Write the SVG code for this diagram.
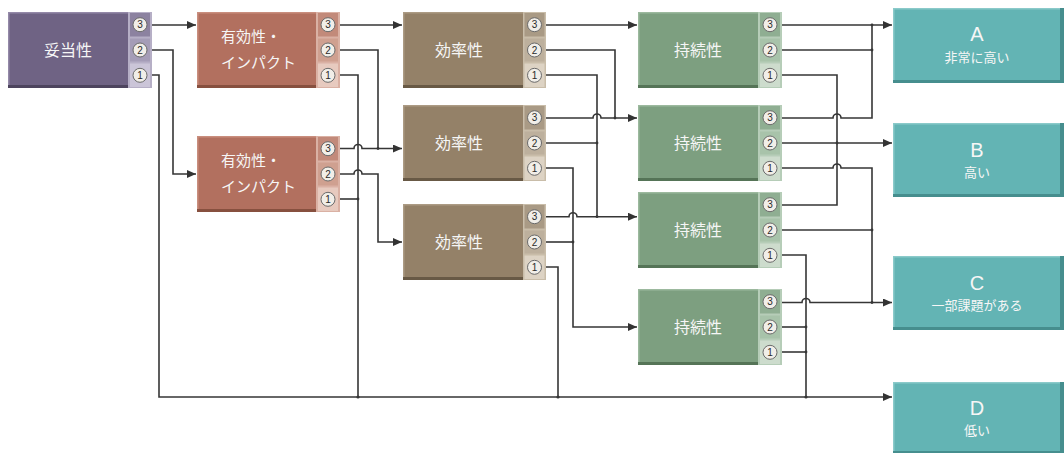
<svg xmlns="http://www.w3.org/2000/svg" width="1064" height="453" viewBox="0 0 1064 453">
<style>
.lbl{font-family:"Liberation Sans","Noto Sans CJK JP",sans-serif;fill:#f6f6f6;font-size:16px;text-anchor:middle}
.l2{font-size:15px;text-anchor:start}
.big{font-size:20px}
.sub{font-size:13px}
.c{fill:none;stroke:#363636;stroke-width:1.6}
.a{marker-end:url(#arr)}
.j{fill:#363636}
.hl{fill:none;stroke-width:1.5}
</style>
<defs>
<marker id="arr" markerUnits="userSpaceOnUse" markerWidth="9" markerHeight="8" refX="9" refY="4" orient="auto">
<path d="M0,0 L9,4 L0,8 z" fill="#333"/>
</marker>
<g id="digits" font-family="Liberation Sans, sans-serif" font-size="10" text-anchor="middle">
<circle cx="0" cy="12.7" r="7" fill="#f1eee8" stroke="#6a6a6a" stroke-width="1"/><text x="0" y="16.3" fill="#2a2a2a">3</text>
<circle cx="0" cy="38" r="7" fill="#f1eee8" stroke="#6a6a6a" stroke-width="1"/><text x="0" y="41.6" fill="#2a2a2a">2</text>
<circle cx="0" cy="63.3" r="7" fill="#f1eee8" stroke="#6a6a6a" stroke-width="1"/><text x="0" y="66.9" fill="#2a2a2a">1</text>
</g>
</defs>
<rect width="1064" height="453" fill="#ffffff"/>

<!-- connectors -->
<g id="connectors">
<path class="c a" d="M152 25 H196"/>
<path class="c a" d="M152 50 H173 V174 H196"/>
<path class="c a" d="M152 75 H159 V397 H892"/>
<path class="c a" d="M340 25 H402"/>
<path class="c" d="M340 50 H378 V148.5"/>
<path class="c a" d="M340 148.5 H354 A4 4 0 0 1 362 148.5 H402"/>
<path class="c" d="M340 75 H358 V397"/>
<path class="c a" d="M340 174 H354 A4 4 0 0 1 362 174 H378 V242 H402"/>
<path class="c" d="M340 199 H358"/>
<path class="c a" d="M546 25 H637"/>
<path class="c" d="M546 50 H615 V118"/>
<path class="c a" d="M546 118 H593 A4 4 0 0 1 601 118 H637"/>
<path class="c" d="M546 75 H597 V216.7"/>
<path class="c" d="M546 143 H597"/>
<path class="c a" d="M546 216.7 H569 A4 4 0 0 1 577 216.7 H637"/>
<path class="c a" d="M546 168 H573 V327 H637"/>
<path class="c" d="M546 242 H573"/>
<path class="c" d="M546 267 H558 V397"/>
<path class="c a" d="M782 25 H892"/>
<path class="c" d="M782 50 H872"/>
<path class="c" d="M782 118 H833 A4 4 0 0 1 841 118 H872 V25"/>
<path class="c a" d="M782 143 H892"/>
<path class="c" d="M782 75 H837 V205 H782"/>
<path class="c a" d="M782 168 H833 A4 4 0 0 1 841 168 H872 V302.5 H892"/>
<path class="c" d="M782 230 H872"/>
<path class="c" d="M782 302.5 H802 A4 4 0 0 1 810 302.5 H872"/>
<path class="c" d="M782 255 H806 V397"/>
<path class="c" d="M782 327 H806"/>
<path class="c" d="M782 352 H806"/>
<circle class="j" cx="358" cy="397" r="1.6"/>
<circle class="j" cx="558" cy="397" r="1.6"/>
<circle class="j" cx="806" cy="397" r="1.6"/>
<circle class="j" cx="358" cy="199" r="1.4"/>
<circle class="j" cx="378" cy="148.5" r="1.4"/>
<circle class="j" cx="615" cy="118" r="1.4"/>
<circle class="j" cx="597" cy="143" r="1.4"/>
<circle class="j" cx="597" cy="216.7" r="1.4"/>
<circle class="j" cx="573" cy="242" r="1.4"/>
<circle class="j" cx="872" cy="25" r="1.4"/>
<circle class="j" cx="872" cy="50" r="1.4"/>
<circle class="j" cx="837" cy="143" r="1.4"/>
<circle class="j" cx="872" cy="230" r="1.4"/>
<circle class="j" cx="872" cy="302.5" r="1.4"/>
<circle class="j" cx="806" cy="327" r="1.4"/>
<circle class="j" cx="806" cy="352" r="1.4"/>
</g>

<!-- 妥当性 -->
<g id="n1">
<rect x="8" y="12" width="120" height="76" fill="#6f6384"/>
<path class="hl" d="M8.75 88 V12.75 H128" stroke="#9489a8"/>
<rect x="8" y="85" width="120" height="3" fill="#4d445e"/>
<rect x="128" y="12" width="24" height="76" fill="#b6afc6"/>
<rect x="130" y="13" width="20" height="23.5" fill="#8c82a0"/>
<rect x="130" y="38.5" width="20" height="23" fill="#a59db7"/>
<rect x="130" y="63.5" width="20" height="23.5" fill="#cbc5d8"/>
<use href="#digits" x="140" y="12"/>
<text class="lbl" x="68" y="55.5">妥当性</text>
</g>

<!-- 有効性・インパクト 上 -->
<g id="n2">
<rect x="197" y="12" width="119" height="76" fill="#b2705f"/>
<path class="hl" d="M197.75 88 V12.75 H316" stroke="#c98e7e"/>
<rect x="197" y="85" width="119" height="3" fill="#87503f"/>
<rect x="316" y="12" width="24" height="76" fill="#dab1a4"/>
<rect x="318" y="13" width="20" height="23.5" fill="#c28a7a"/>
<rect x="318" y="38.5" width="20" height="23" fill="#cfa090"/>
<rect x="318" y="63.5" width="20" height="23.5" fill="#e7cabf"/>
<use href="#digits" x="328" y="12"/>
<text class="lbl l2" x="221" y="42">有効性・</text>
<text class="lbl l2" x="221" y="68">インパクト</text>
</g>

<!-- 有効性・インパクト 下 -->
<g id="n3">
<rect x="197" y="136" width="119" height="76" fill="#b2705f"/>
<path class="hl" d="M197.75 212 V136.75 H316" stroke="#c98e7e"/>
<rect x="197" y="209" width="119" height="3" fill="#87503f"/>
<rect x="316" y="136" width="24" height="76" fill="#dab1a4"/>
<rect x="318" y="137" width="20" height="23.5" fill="#c28a7a"/>
<rect x="318" y="162.5" width="20" height="23" fill="#cfa090"/>
<rect x="318" y="187.5" width="20" height="23.5" fill="#e7cabf"/>
<use href="#digits" x="328" y="136"/>
<text class="lbl l2" x="221" y="166">有効性・</text>
<text class="lbl l2" x="221" y="192">インパクト</text>
</g>

<!-- 効率性 -->
<g id="n4">
<rect x="403" y="12" width="120" height="76" fill="#948168"/>
<path class="hl" d="M403.75 88 V12.75 H523" stroke="#ac9b84"/>
<rect x="403" y="85" width="120" height="3" fill="#685945"/>
<rect x="523" y="12" width="23" height="76" fill="#c9bda9"/>
<rect x="524.5" y="13" width="20" height="23.5" fill="#a99a85"/>
<rect x="524.5" y="38.5" width="20" height="23" fill="#bdb09d"/>
<rect x="524.5" y="63.5" width="20" height="23.5" fill="#ddd3c4"/>
<use href="#digits" x="534.5" y="12"/>
<text class="lbl" x="459" y="55.5">効率性</text>
</g>
<g id="n5">
<rect x="403" y="105" width="120" height="76" fill="#948168"/>
<path class="hl" d="M403.75 181 V105.75 H523" stroke="#ac9b84"/>
<rect x="403" y="178" width="120" height="3" fill="#685945"/>
<rect x="523" y="105" width="23" height="76" fill="#c9bda9"/>
<rect x="524.5" y="106" width="20" height="23.5" fill="#a99a85"/>
<rect x="524.5" y="131.5" width="20" height="23" fill="#bdb09d"/>
<rect x="524.5" y="156.5" width="20" height="23.5" fill="#ddd3c4"/>
<use href="#digits" x="534.5" y="105"/>
<text class="lbl" x="459" y="148.5">効率性</text>
</g>
<g id="n6">
<rect x="403" y="204" width="120" height="76" fill="#948168"/>
<path class="hl" d="M403.75 280 V204.75 H523" stroke="#ac9b84"/>
<rect x="403" y="277" width="120" height="3" fill="#685945"/>
<rect x="523" y="204" width="23" height="76" fill="#c9bda9"/>
<rect x="524.5" y="205" width="20" height="23.5" fill="#a99a85"/>
<rect x="524.5" y="230.5" width="20" height="23" fill="#bdb09d"/>
<rect x="524.5" y="255.5" width="20" height="23.5" fill="#ddd3c4"/>
<use href="#digits" x="534.5" y="204"/>
<text class="lbl" x="459" y="247.5">効率性</text>
</g>

<!-- 持続性 -->
<g id="n7">
<rect x="638" y="12" width="120" height="76" fill="#7d9f80"/>
<path class="hl" d="M638.75 88 V12.75 H758" stroke="#9cb99e"/>
<rect x="638" y="85" width="120" height="3" fill="#557457"/>
<rect x="758" y="12" width="24" height="76" fill="#b6cdb8"/>
<rect x="760" y="13" width="20" height="23.5" fill="#8fae92"/>
<rect x="760" y="38.5" width="20" height="23" fill="#a8c3aa"/>
<rect x="760" y="63.5" width="20" height="23.5" fill="#cddccd"/>
<use href="#digits" x="770" y="12"/>
<text class="lbl" x="698" y="55.5">持続性</text>
</g>
<g id="n8">
<rect x="638" y="105" width="120" height="76" fill="#7d9f80"/>
<path class="hl" d="M638.75 181 V105.75 H758" stroke="#9cb99e"/>
<rect x="638" y="178" width="120" height="3" fill="#557457"/>
<rect x="758" y="105" width="24" height="76" fill="#b6cdb8"/>
<rect x="760" y="106" width="20" height="23.5" fill="#8fae92"/>
<rect x="760" y="131.5" width="20" height="23" fill="#a8c3aa"/>
<rect x="760" y="156.5" width="20" height="23.5" fill="#cddccd"/>
<use href="#digits" x="770" y="105"/>
<text class="lbl" x="698" y="148.5">持続性</text>
</g>
<g id="n9">
<rect x="638" y="192" width="120" height="76" fill="#7d9f80"/>
<path class="hl" d="M638.75 268 V192.75 H758" stroke="#9cb99e"/>
<rect x="638" y="265" width="120" height="3" fill="#557457"/>
<rect x="758" y="192" width="24" height="76" fill="#b6cdb8"/>
<rect x="760" y="193" width="20" height="23.5" fill="#8fae92"/>
<rect x="760" y="218.5" width="20" height="23" fill="#a8c3aa"/>
<rect x="760" y="243.5" width="20" height="23.5" fill="#cddccd"/>
<use href="#digits" x="770" y="192"/>
<text class="lbl" x="698" y="235.5">持続性</text>
</g>
<g id="n10">
<rect x="638" y="289" width="120" height="76" fill="#7d9f80"/>
<path class="hl" d="M638.75 365 V289.75 H758" stroke="#9cb99e"/>
<rect x="638" y="362" width="120" height="3" fill="#557457"/>
<rect x="758" y="289" width="24" height="76" fill="#b6cdb8"/>
<rect x="760" y="290" width="20" height="23.5" fill="#8fae92"/>
<rect x="760" y="315.5" width="20" height="23" fill="#a8c3aa"/>
<rect x="760" y="340.5" width="20" height="23.5" fill="#cddccd"/>
<use href="#digits" x="770" y="289"/>
<text class="lbl" x="698" y="332.5">持続性</text>
</g>

<!-- outcomes -->
<g id="oA">
<rect x="893" y="8" width="171" height="75" fill="#63b4b4"/>
<path class="hl" d="M893.75 83 V8.75 H1064" stroke="#8bcaca"/>
<rect x="893" y="80" width="171" height="3" fill="#468e8e"/>
<rect x="1060" y="8" width="4" height="75" fill="#468e8e"/>
<text class="lbl big" x="977" y="41">A</text>
<text class="lbl sub" x="977" y="62">非常に高い</text>
</g>
<g id="oB">
<rect x="893" y="123" width="171" height="74" fill="#63b4b4"/>
<path class="hl" d="M893.75 197 V123.75 H1064" stroke="#8bcaca"/>
<rect x="893" y="194" width="171" height="3" fill="#468e8e"/>
<rect x="1060" y="123" width="4" height="74" fill="#468e8e"/>
<text class="lbl big" x="977" y="157">B</text>
<text class="lbl sub" x="977" y="177">高い</text>
</g>
<g id="oC">
<rect x="893" y="256" width="171" height="74" fill="#63b4b4"/>
<path class="hl" d="M893.75 330 V256.75 H1064" stroke="#8bcaca"/>
<rect x="893" y="327" width="171" height="3" fill="#468e8e"/>
<rect x="1060" y="256" width="4" height="74" fill="#468e8e"/>
<text class="lbl big" x="977" y="290">C</text>
<text class="lbl sub" x="977" y="310">一部課題がある</text>
</g>
<g id="oD">
<rect x="893" y="382" width="171" height="71" fill="#63b4b4"/>
<path class="hl" d="M893.75 453 V382.75 H1064" stroke="#8bcaca"/>
<rect x="893" y="451" width="171" height="2" fill="#468e8e"/>
<rect x="1060" y="382" width="4" height="71" fill="#468e8e"/>
<text class="lbl big" x="977" y="415">D</text>
<text class="lbl sub" x="977" y="435">低い</text>
</g>
</svg>
